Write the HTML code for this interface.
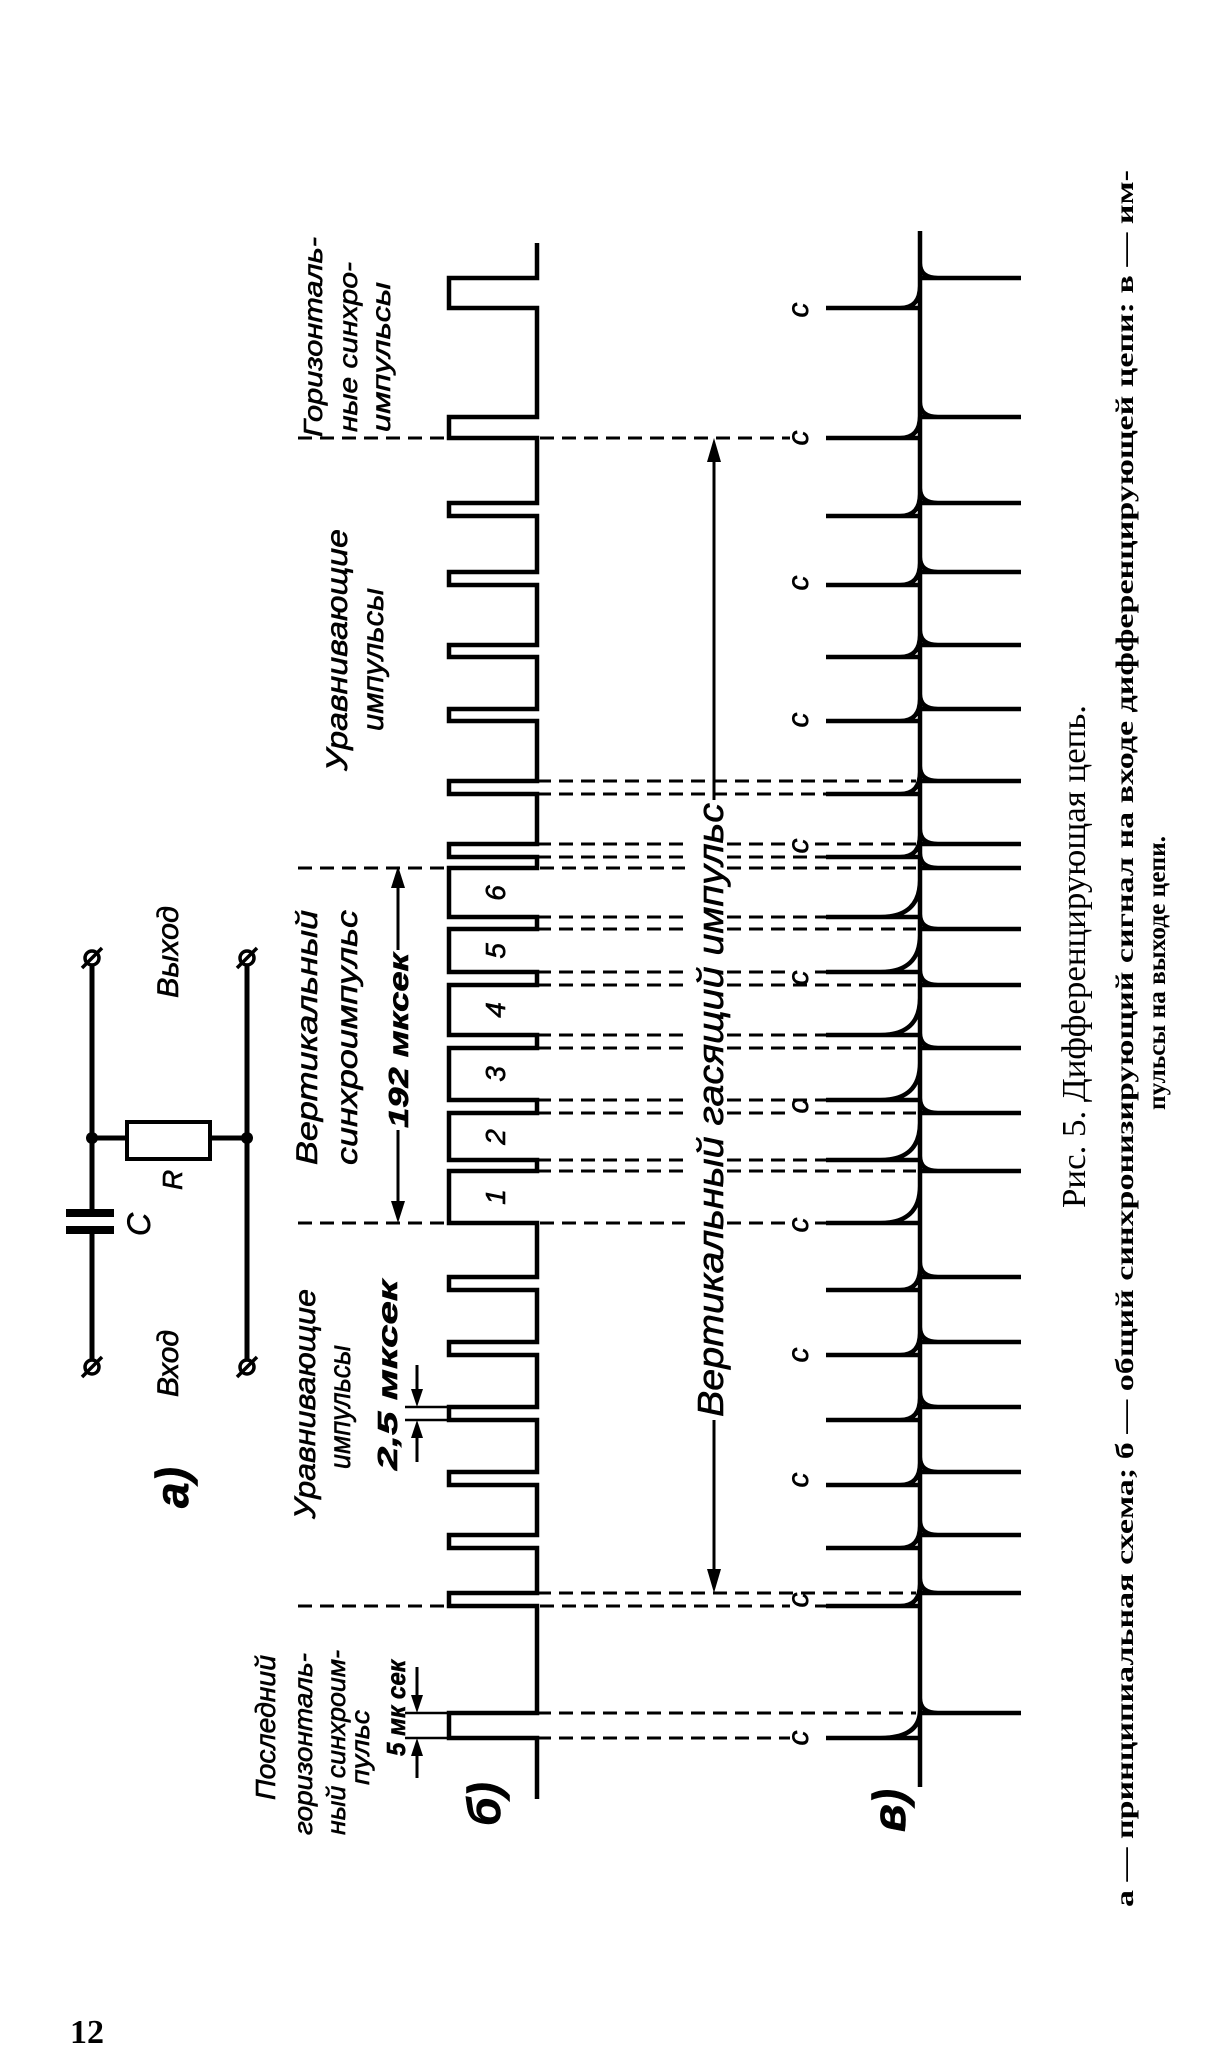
<!DOCTYPE html>
<html><head><meta charset="utf-8"><style>
html,body{margin:0;padding:0;background:#fff;}
svg{display:block;}
.l{font-family:"Liberation Sans","DejaVu Sans",sans-serif;font-style:italic;fill:#000;stroke:#000;stroke-width:0.6;}
.s{font-family:"Liberation Serif","DejaVu Serif",serif;fill:#000;}
</style></head><body>
<svg width="1228" height="2055" viewBox="0 0 1228 2055" xmlns="http://www.w3.org/2000/svg">
<rect width="1228" height="2055" fill="#fff"/>

<!-- dashed connectors -->
<path fill="none" stroke="#000" stroke-width="3" stroke-dasharray="14 8" d="
M298 438H790
M537 781H916 M537 794H916
M537 844H685 M727 844H790 M815 844H916
M537 857H685 M727 857H916
M298 868H685 M727 868H916
M537 917H685 M727 917H916
M537 929H685 M727 929H916
M537 972H685 M727 972H790 M815 972H916
M537 985H685 M727 985H916
M537 1035H685 M727 1035H916
M537 1048H685 M727 1048H916
M537 1100H685 M727 1100H916
M537 1113H685 M727 1113H790 M815 1113H916
M537 1160H685 M727 1160H916
M537 1171H685 M727 1171H916
M298 1223H685 M727 1223H790 M815 1223H916
M537 1593H916
M298 1606H790 M815 1606H916
M537 1713H916
M537 1738H790"/>

<!-- trace b -->
<path fill="none" stroke="#000" stroke-width="4.5" stroke-linejoin="miter" d="
M537 243V278H449V308H537V417H449V438H537
V503H449V516H537V572H449V585H537V645H449V657H537V709H449V721H537V781H449V794H537V844H449V857H537
V868H449V917H537V929H449V972H537V985H449V1035H537V1048H449V1100H537V1113H449V1160H537V1171H449V1223H537
V1277H449V1290H537V1342H449V1355H537V1407H449V1420H537V1472H449V1485H537V1535H449V1548H537V1593H449V1606H537
V1713H449V1738H537V1799"/>

<!-- trace v -->
<path fill="none" stroke="#000" stroke-width="4.5" d="
M920 231V1787
M920 278H1021M938 278Q920 278 920 263M826 308H920M900 308Q920 308 920 286
M920 417H1021M938 417Q920 417 920 402M826 438H920M900 438Q920 438 920 416
M920 503H1021M938 503Q920 503 920 488M826 516H920M900 516Q920 516 920 494
M920 572H1021M938 572Q920 572 920 557M826 585H920M900 585Q920 585 920 563
M920 645H1021M938 645Q920 645 920 630M826 657H920M900 657Q920 657 920 635
M920 709H1021M938 709Q920 709 920 694M826 721H920M900 721Q920 721 920 699
M920 781H1021M938 781Q920 781 920 766M826 794H920M900 794Q920 794 920 772
M920 844H1021M938 844Q920 844 920 829M826 857H920M900 857Q920 857 920 835
M920 868H1021M938 868Q920 868 920 853M826 917H920M880 917Q920 917 920 880
M920 929H1021M938 929Q920 929 920 914M826 972H920M880 972Q920 972 920 935
M920 985H1021M938 985Q920 985 920 970M826 1035H920M880 1035Q920 1035 920 998
M920 1048H1021M938 1048Q920 1048 920 1033M826 1100H920M880 1100Q920 1100 920 1063
M920 1113H1021M938 1113Q920 1113 920 1098M826 1160H920M880 1160Q920 1160 920 1123
M920 1171H1021M938 1171Q920 1171 920 1156M826 1223H920M880 1223Q920 1223 920 1186
M920 1277H1021M938 1277Q920 1277 920 1262M826 1290H920M900 1290Q920 1290 920 1268
M920 1342H1021M938 1342Q920 1342 920 1327M826 1355H920M900 1355Q920 1355 920 1333
M920 1407H1021M938 1407Q920 1407 920 1392M826 1420H920M900 1420Q920 1420 920 1398
M920 1472H1021M938 1472Q920 1472 920 1457M826 1485H920M900 1485Q920 1485 920 1463
M920 1535H1021M938 1535Q920 1535 920 1520M826 1548H920M900 1548Q920 1548 920 1526
M920 1593H1021M938 1593Q920 1593 920 1578M826 1606H920M900 1606Q920 1606 920 1584
M920 1713H1021M938 1713Q920 1713 920 1698M826 1738H920M880 1738Q920 1738 920 1710"/>

<!-- arrows -->
<path fill="none" stroke="#000" stroke-width="3" d="M714 450V800 M714 1420V1580 M398 878V950 M398 1130V1210 M417 1365V1400 M417 1427V1462 M417 1667V1706 M417 1745V1778"/>
<path fill="none" stroke="#000" stroke-width="2.5" d="M405 1407H449 M405 1420H449 M405 1713H449 M405 1738H449"/>
<g fill="#000">
<polygon points="714,438 707,462 721,462"/>
<polygon points="714,1593 707,1569 721,1569"/>
<polygon points="398,866 391,888 405,888"/>
<polygon points="398,1223 391,1201 405,1201"/>
<polygon points="417,1407 411,1389 423,1389"/>
<polygon points="417,1420 411,1438 423,1438"/>
<polygon points="417,1713 411,1695 423,1695"/>
<polygon points="417,1738 411,1756 423,1756"/>
</g>

<!-- circuit -->
<g stroke="#000" fill="none" stroke-width="5">
<path d="M92 966V1210 M92 1232V1359 M247 966V1359 M92 1138H247"/>
</g>
<rect x="127" y="1122" width="83" height="37" fill="#fff" stroke="#000" stroke-width="4"/>
<rect x="66" y="1209" width="48" height="8" fill="#000"/>
<rect x="66" y="1226" width="48" height="8" fill="#000"/>
<circle cx="92" cy="1138" r="6" fill="#000"/>
<circle cx="247" cy="1138" r="6" fill="#000"/>
<g stroke="#000" stroke-width="3.5" fill="#fff">
<circle cx="92" cy="958" r="7"/><circle cx="247" cy="958" r="7"/>
<circle cx="92" cy="1367" r="7"/><circle cx="247" cy="1367" r="7"/>
<path d="M82 968L102 948M237 968L257 948M82 1377L102 1357M237 1377L257 1357" fill="none"/>
</g>

<!-- labels -->
<g class="l">
<text transform="translate(178,998) rotate(-90)" font-size="30" textLength="92" lengthAdjust="spacingAndGlyphs">Выход</text>
<text transform="translate(178,1397) rotate(-90)" font-size="30" textLength="67" lengthAdjust="spacingAndGlyphs">Вход</text>
<text transform="translate(150,1236) rotate(-90)" font-size="32">C</text>
<text transform="translate(182,1190) rotate(-90)" font-size="28">R</text>
<text transform="translate(188,1508) rotate(-90)" font-size="46" font-weight="bold">а)</text>
<text transform="translate(500,1826) rotate(-90)" font-size="46" font-weight="bold">б)</text>
<text transform="translate(905,1832) rotate(-90)" font-size="46" font-weight="bold">в)</text>

<text transform="translate(322,437) rotate(-90)" font-size="26" textLength="200" lengthAdjust="spacingAndGlyphs">Горизонталь-</text>
<text transform="translate(357,432) rotate(-90)" font-size="26" textLength="170" lengthAdjust="spacingAndGlyphs">ные синхро-</text>
<text transform="translate(390,432) rotate(-90)" font-size="26" textLength="150" lengthAdjust="spacingAndGlyphs">импульсы</text>

<text transform="translate(347,771) rotate(-90)" font-size="30" textLength="242" lengthAdjust="spacingAndGlyphs">Уравнивающие</text>
<text transform="translate(383,731) rotate(-90)" font-size="30" textLength="143" lengthAdjust="spacingAndGlyphs">импульсы</text>

<text transform="translate(317,1165) rotate(-90)" font-size="30" textLength="255" lengthAdjust="spacingAndGlyphs">Вертикальный</text>
<text transform="translate(357,1165) rotate(-90)" font-size="30" textLength="255" lengthAdjust="spacingAndGlyphs">синхроимпульс</text>
<text transform="translate(408,1128) rotate(-90)" font-size="28" font-weight="bold" textLength="175" lengthAdjust="spacingAndGlyphs">192 мксек</text>

<text transform="translate(315,1519) rotate(-90)" font-size="30" textLength="230" lengthAdjust="spacingAndGlyphs">Уравнивающие</text>
<text transform="translate(350,1469) rotate(-90)" font-size="30" textLength="124" lengthAdjust="spacingAndGlyphs">импульсы</text>
<text transform="translate(397,1470) rotate(-90)" font-size="28" font-weight="bold" textLength="190" lengthAdjust="spacingAndGlyphs">2,5 мксек</text>

<text transform="translate(275,1800) rotate(-90)" font-size="28" textLength="145" lengthAdjust="spacingAndGlyphs">Последний</text>
<text transform="translate(312,1835) rotate(-90)" font-size="26" textLength="182" lengthAdjust="spacingAndGlyphs">горизонталь-</text>
<text transform="translate(345,1835) rotate(-90)" font-size="26" textLength="185" lengthAdjust="spacingAndGlyphs">ный синхроим-</text>
<text transform="translate(369,1785) rotate(-90)" font-size="26" textLength="75" lengthAdjust="spacingAndGlyphs">пульс</text>
<text transform="translate(405,1756) rotate(-90)" font-size="26" font-weight="bold" textLength="96" lengthAdjust="spacingAndGlyphs">5 мк сек</text>

<text transform="translate(723,1417) rotate(-90)" font-size="36" textLength="614" lengthAdjust="spacingAndGlyphs">Вертикальный гасящий импульс</text>

<g font-size="28" text-anchor="middle">
<text transform="translate(505,1197) rotate(-90)">1</text>
<text transform="translate(505,1137) rotate(-90)">2</text>
<text transform="translate(505,1074) rotate(-90)">3</text>
<text transform="translate(505,1010) rotate(-90)">4</text>
<text transform="translate(505,951) rotate(-90)">5</text>
<text transform="translate(505,893) rotate(-90)">6</text>
</g>

<g font-size="30" text-anchor="middle">
<text transform="translate(808,310) rotate(-90)">c</text>
<text transform="translate(808,438) rotate(-90)">c</text>
<text transform="translate(808,583) rotate(-90)">c</text>
<text transform="translate(808,720) rotate(-90)">c</text>
<text transform="translate(808,846) rotate(-90)">c</text>
<text transform="translate(808,978) rotate(-90)">c</text>
<text transform="translate(808,1106) rotate(-90)">c</text>
<text transform="translate(808,1225) rotate(-90)">c</text>
<text transform="translate(808,1355) rotate(-90)">c</text>
<text transform="translate(808,1480) rotate(-90)">c</text>
<text transform="translate(808,1600) rotate(-90)">c</text>
<text transform="translate(808,1738) rotate(-90)">c</text>
</g>
</g>

<!-- captions -->
<g class="s">
<text transform="translate(1085,1208) rotate(-90)" font-size="34" textLength="503" lengthAdjust="spacingAndGlyphs">Рис. 5. Дифференцирующая цепь.</text>
<text transform="translate(1133,1907) rotate(-90)" font-size="25" font-weight="bold" textLength="1737" lengthAdjust="spacingAndGlyphs">а — принципиальная схема;  б — общий  синхронизирующий  сигнал  на  входе  дифференцирующей  цепи:  в — им-</text>
<text transform="translate(1165,1110) rotate(-90)" font-size="25" font-weight="bold" textLength="274" lengthAdjust="spacingAndGlyphs">пульсы на выходе цепи.</text>
<text x="70" y="2043" font-size="34" font-weight="bold">12</text>
</g>
</svg>
</body></html>
